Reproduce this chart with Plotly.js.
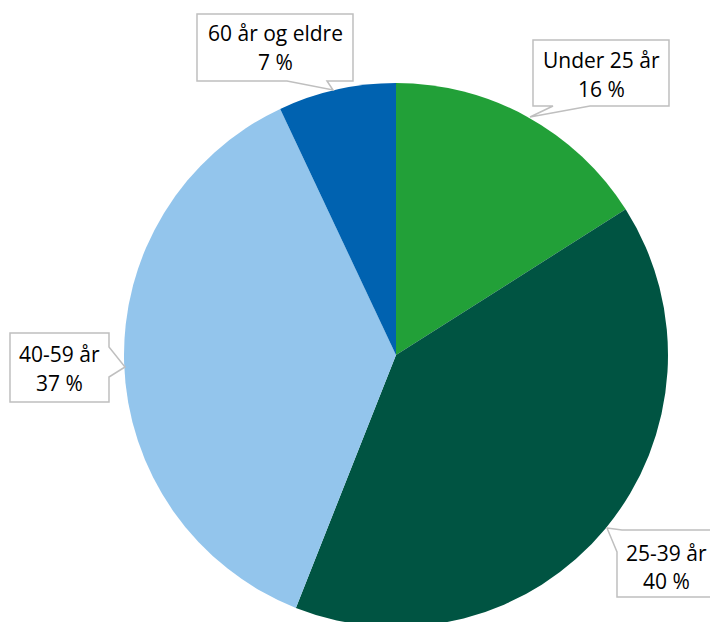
<!DOCTYPE html>
<html>
<head>
<meta charset="utf-8">
<script src="https://cdn.plot.ly/plotly-3.0.1.min.js"></script>
<style>html,body{margin:0;padding:0;overflow:hidden;background:#fff;}</style>
</head>
<body>
<div id="chart"></div>
<script>
const categories = ["Under 25 år", "25-39 år", "40-59 år", "60 år og eldre"];
const shares = [16, 40, 37, 7];
const colors = ["#22a038", "#005442", "#93c5ec", "#0062b0"];

const W = 710, H = 640;
const px = x => x / W;
const py = y => 1 - y / H;

// callout boxes (pixel geometry) and text line centres
const callouts = [
  {cat: 3, path: [[197,14],[353,14],[353,81],[327,81],[333,90],[287,81],[197,81]], cx: 275, y1: 33, y2: 62},
  {cat: 0, path: [[533,40],[669,40],[669,106],[590,106],[530,117],[553,106],[533,106]], cx: 601, y1: 60, y2: 89},
  {cat: 2, path: [[10,333],[109,333],[109,347],[125,367],[109,377],[109,402],[10,402]], cx: 59.5, y1: 354, y2: 383},
  {cat: 1, path: [[607,528],[622,530],[720,530],[720,597],[617,597],[617,552]], cx: 666, y1: 553, y2: 581}
];

const shapes = callouts.map(c => ({
  type: "path", xref: "paper", yref: "paper", layer: "above",
  path: c.path.map((p, i) => (i ? "L" : "M") + px(p[0]).toFixed(5) + "," + py(p[1]).toFixed(5)).join(" ") + " Z",
  fillcolor: "#ffffff", line: {color: "#bfbfbf", width: 1.5}
}));

const font = {family: "Open Sans, Noto Sans, sans-serif", size: 21, color: "#000"};
const annotations = [];
callouts.forEach(c => {
  const k = c.cat;
  annotations.push({xref: "paper", yref: "paper", x: px(c.cx), y: py(c.y1),
    xanchor: "center", yanchor: "middle", showarrow: false, text: categories[k], font: font});
  annotations.push({xref: "paper", yref: "paper", x: px(c.cx), y: py(c.y2),
    xanchor: "center", yanchor: "middle", showarrow: false, text: shares[k] + " %", font: font});
});

const R = 272, CX = 396, CY = 355;
Plotly.newPlot("chart", [{
  type: "pie",
  labels: categories,
  values: shares,
  sort: false,
  direction: "clockwise",
  rotation: 0,
  textinfo: "none",
  hoverinfo: "label+percent",
  marker: {colors: colors, line: {width: 0}},
  domain: {x: [px(CX - R), px(CX + R)], y: [py(CY + R), py(CY - R)]},
  showlegend: false
}], {
  width: W, height: H,
  margin: {l: 0, r: 0, t: 0, b: 0},
  paper_bgcolor: "#fff",
  shapes: shapes,
  annotations: annotations,
  showlegend: false
}, {staticPlot: true});
</script>
</body>
</html>
